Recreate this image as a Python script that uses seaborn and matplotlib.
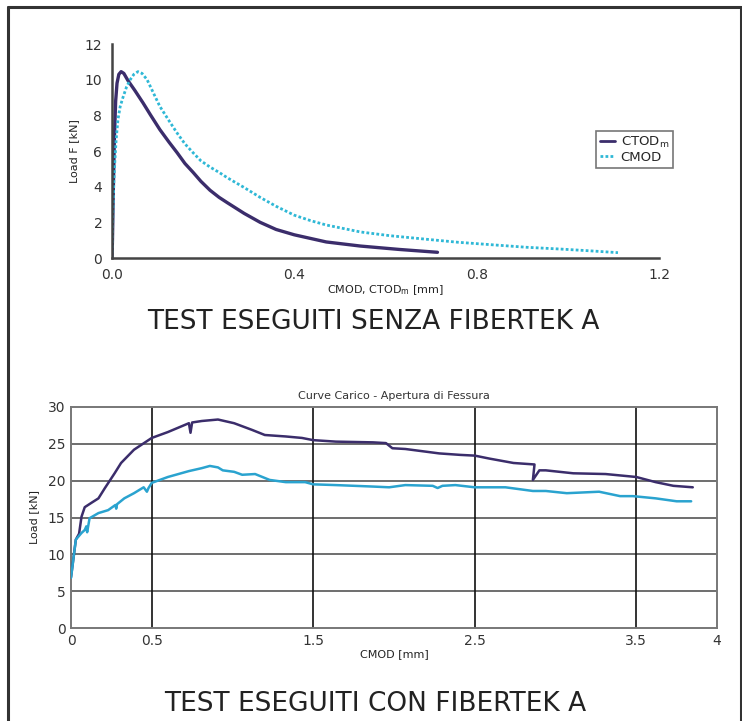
import matplotlib
matplotlib.use("Agg")
import matplotlib.pyplot as plt
import seaborn as sns
from matplotlib.lines import Line2D

sns.set_style("white")
plt.rcParams['font.family'] = ['DejaVu Sans']

# ---------------- data: top chart (without Fibertek A) ----------------
ctod_x = [0.0, 0.001, 0.003, 0.005, 0.008, 0.011, 0.015, 0.02, 0.026, 0.035, 0.05, 0.068,
          0.085, 0.105, 0.125, 0.143, 0.16, 0.178, 0.195, 0.215, 0.235, 0.253, 0.29, 0.325,
          0.36, 0.40, 0.47, 0.545, 0.63, 0.714]
ctod_y = [0.0, 1.0, 4.0, 6.5, 8.8, 9.8, 10.3, 10.45, 10.35, 9.95, 9.4, 8.7,
          8.0, 7.2, 6.5, 5.9, 5.3, 4.8, 4.3, 3.8, 3.4, 3.1, 2.5, 2.0,
          1.6, 1.3, 0.9, 0.67, 0.48, 0.32]
cmod_x = [0.0, 0.002, 0.004, 0.006, 0.009, 0.013, 0.018, 0.024, 0.032, 0.04, 0.048, 0.057,
          0.066, 0.077, 0.09, 0.105, 0.125, 0.143, 0.16, 0.178, 0.195, 0.215, 0.235, 0.253,
          0.29, 0.325, 0.36, 0.40, 0.435, 0.47, 0.545, 0.61, 0.69, 0.76, 0.84, 0.91, 0.985,
          1.05, 1.11]
cmod_y = [0.0, 2.5, 4.2, 5.3, 6.6, 7.75, 8.5, 9.0, 9.6, 10.0, 10.3, 10.45,
          10.35, 10.0, 9.3, 8.5, 7.7, 7.0, 6.4, 5.9, 5.45, 5.1, 4.8, 4.5,
          3.95, 3.4, 2.9, 2.4, 2.1, 1.85, 1.46, 1.25, 1.05, 0.88, 0.73, 0.6, 0.5,
          0.4, 0.3]

# ---------------- data: bottom chart (with Fibertek A) ----------------
p_x = [0.0, 0.03, 0.05, 0.065, 0.085, 0.127, 0.17, 0.21, 0.27, 0.31, 0.39, 0.5, 0.6, 0.73,
       0.74, 0.75, 0.81, 0.91, 1.01, 1.12, 1.2, 1.33, 1.43, 1.5, 1.64, 1.87, 1.95, 1.99,
       2.07, 2.28, 2.41, 2.5, 2.59, 2.74, 2.87, 2.86, 2.90, 2.94, 3.11, 3.31, 3.5, 3.62,
       3.73, 3.85]
p_y = [6.9, 12.0, 12.8, 15.1, 16.4, 17.0, 17.6, 19.0, 21.0, 22.4, 24.2, 25.8, 26.6, 27.8,
       26.5, 27.9, 28.1, 28.3, 27.8, 26.9, 26.2, 26.0, 25.8, 25.5, 25.3, 25.2, 25.1, 24.4,
       24.3, 23.7, 23.5, 23.4, 23.0, 22.4, 22.2, 20.1, 21.4, 21.4, 21.0, 20.9, 20.5, 19.8,
       19.3, 19.1]
c_x = [0.0, 0.03, 0.065, 0.085, 0.095, 0.10, 0.115, 0.17, 0.23, 0.275, 0.28, 0.285, 0.33,
       0.39, 0.45, 0.47, 0.48, 0.5, 0.6, 0.73, 0.81, 0.86, 0.91, 0.94, 1.01, 1.06, 1.14,
       1.23, 1.33, 1.45, 1.5, 1.64, 1.87, 1.97, 2.07, 2.24, 2.27, 2.30, 2.38, 2.5, 2.69,
       2.86, 2.94, 3.07, 3.27, 3.4, 3.48, 3.62, 3.75, 3.84]
c_y = [6.8, 12.0, 12.9, 13.3, 13.8, 13.0, 14.9, 15.6, 16.0, 16.7, 16.2, 16.8, 17.6,
       18.3, 19.1, 18.5, 19.0, 19.7, 20.5, 21.3, 21.7, 22.0, 21.8, 21.4, 21.2, 20.8, 20.9,
       20.1, 19.8, 19.8, 19.5, 19.4, 19.2, 19.1, 19.4, 19.3, 19.0, 19.3, 19.4, 19.1, 19.1,
       18.6, 18.6, 18.3, 18.5, 17.9, 17.9, 17.6, 17.2, 17.2]

top_xticks = [0.0, 0.4, 0.8, 1.2]
top_yticks = [0, 2, 4, 6, 8, 10, 12]
bot_xticks = [0, 0.5, 1.5, 2.5, 3.5, 4]
bot_xticklabels = ["0", "0.5", "1.5", "2.5", "3.5", "4"]
bot_yticks = [0, 5, 10, 15, 20, 25, 30]

PURPLE = "#3b2d6b"
CYAN_DOT = "#2fb8d6"
CYAN = "#2aa3cf"
TXT = "#222222"

W, H = 742, 721
fig = plt.figure(figsize=(W / 100, H / 100), dpi=100)

def fx(px):
    return px / W

def fy(py):
    return 1 - py / H

# ---------------- top chart ----------------
ax1 = fig.add_axes([fx(112), fy(258), (659 - 112) / W, (258 - 44) / H])
sns.lineplot(x=ctod_x, y=ctod_y, ax=ax1, color=PURPLE, lw=2.4, sort=False, estimator=None)
sns.lineplot(x=cmod_x, y=cmod_y, ax=ax1, color=CYAN_DOT, lw=2.0, sort=False, estimator=None,
             linestyle=(0, (1, 0.8)))
ax1.set_xlim(0, 1.2)
ax1.set_ylim(0, 12)
ax1.set_xticks(top_xticks)
ax1.set_xticklabels([f"{v:.1f}" for v in top_xticks])
ax1.set_yticks(top_yticks)
for s in ["top", "right"]:
    ax1.spines[s].set_visible(False)
for s in ["left", "bottom"]:
    ax1.spines[s].set_color("#444444")
    ax1.spines[s].set_linewidth(1.8)
ax1.tick_params(axis="both", direction="out", length=5, width=1.5, color="#444444",
                labelsize=10, labelcolor="#333333", pad=2)
ax1.set_xlabel("CMOD, CTOD$_\\mathregular{m}$ [mm]", fontsize=8, color=TXT, labelpad=1)
ax1.set_ylabel("Load F [kN]", fontsize=8, color=TXT, labelpad=4)
handles = [Line2D([], [], color=PURPLE, lw=2), Line2D([], [], color=CYAN_DOT, lw=2, linestyle=(0, (1, 0.8)))]
leg = ax1.legend(handles, ["CTOD$_\\mathregular{m}$", "CMOD"], loc="upper left",
                 bbox_to_anchor=(0.872, 0.625), fontsize=9.5, frameon=True, fancybox=False,
                 handlelength=1.2, handletextpad=0.4, borderpad=0.3, labelspacing=0.05)
leg.get_frame().set_edgecolor("#555555")
leg.get_frame().set_linewidth(1.2)

fig.text(fx(373), fy(322), "TEST ESEGUITI SENZA FIBERTEK A", ha="center", va="center",
         fontsize=19, color=TXT)

# ---------------- bottom chart ----------------
ax2 = fig.add_axes([fx(71), fy(628), (717 - 71) / W, (628 - 407) / H])
sns.lineplot(x=p_x, y=p_y, ax=ax2, color=PURPLE, lw=1.8, sort=False, estimator=None, zorder=3)
sns.lineplot(x=c_x, y=c_y, ax=ax2, color=CYAN, lw=1.8, sort=False, estimator=None, zorder=3)
ax2.set_xlim(0, 4)
ax2.set_ylim(0, 30)
ax2.set_xticks(bot_xticks)
ax2.set_xticklabels(bot_xticklabels)
ax2.set_yticks(bot_yticks)
for v in [5, 10, 15, 20, 25]:
    ax2.axhline(v, color="#555555", lw=1.2, zorder=1)
for v in [0.5, 1.5, 2.5, 3.5]:
    ax2.axvline(v, color="#111111", lw=1.2, zorder=1)
for s in ax2.spines.values():
    s.set_color("#777777")
    s.set_linewidth(1.4)
ax2.tick_params(axis="both", length=0, labelsize=10, labelcolor="#333333", pad=4)
ax2.set_xlabel("CMOD [mm]", fontsize=8, color=TXT, labelpad=1)
ax2.set_ylabel("Load [kN]", fontsize=8, color=TXT, labelpad=6)
ax2.set_title("Curve Carico - Apertura di Fessura", fontsize=8, color="#333333", pad=6)

fig.text(fx(375), fy(704), "TEST ESEGUITI CON FIBERTEK A", ha="center", va="center",
         fontsize=19, color=TXT)

# ---------------- outer frame ----------------
frame_kw = dict(color="#333333", lw=2.2, transform=fig.transFigure)
fig.add_artist(Line2D([fx(8), fx(8)], [fy(7), 0], **frame_kw))
fig.add_artist(Line2D([fx(8), fx(740.5)], [fy(7), fy(7)], **frame_kw))
fig.add_artist(Line2D([fx(740.5), fx(740.5)], [fy(7), 0], **frame_kw))

fig.savefig("out.png", dpi=100)
